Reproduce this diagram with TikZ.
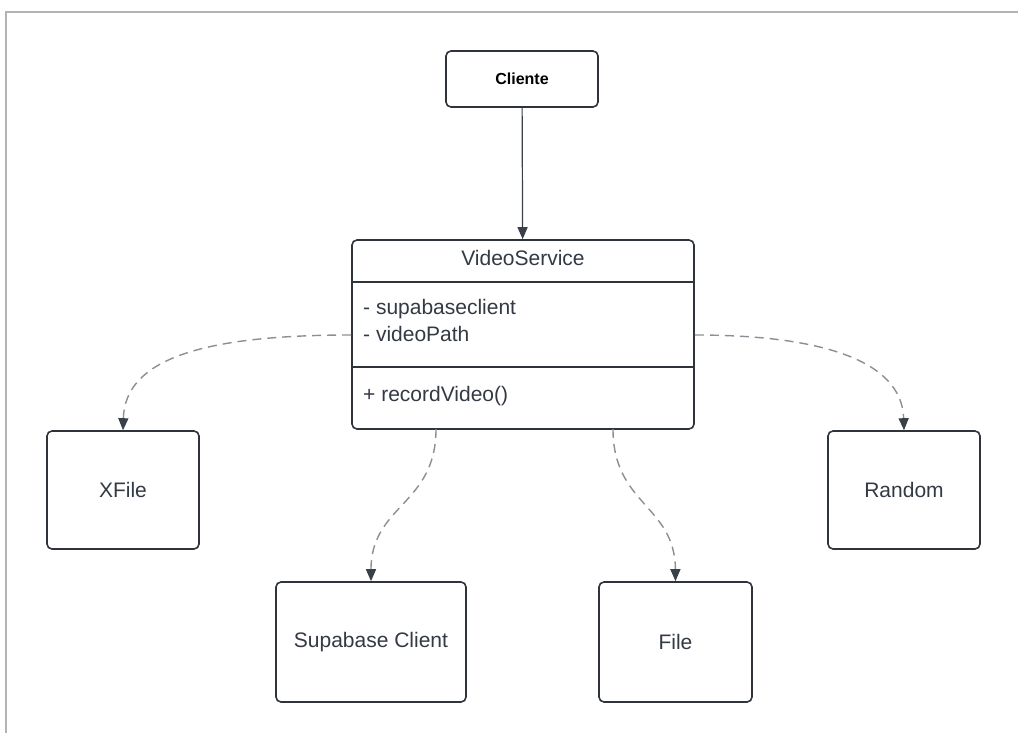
\documentclass[tikz,border=0pt]{standalone}
\usepackage{fontspec}
\setmainfont{Liberation Sans}
\usetikzlibrary{shapes,arrows.meta}
\definecolor{boxline}{HTML}{2F343B}
\definecolor{ink}{HTML}{333A44}
\definecolor{depline}{HTML}{8A8F96}
\definecolor{tipcol}{HTML}{3A4049}
\definecolor{framegray}{HTML}{B3B3B3}

\begin{document}
\begin{tikzpicture}[x=1pt,y=-1pt,
  box/.style={draw=boxline,line width=1.6pt,rounded corners=5pt,fill=white,inner sep=0pt,text=ink,font=\fontsize{21}{25}\selectfont},
  member/.style={anchor=west,inner sep=0pt,text=ink,font=\fontsize{21}{25}\selectfont},
  dep/.style={depline,line width=1.4pt,dash pattern=on 9pt off 6pt,-{Triangle[length=12pt,width=10pt,color=tipcol]}}]
\useasboundingbox (0,0) rectangle (1018,733);
\draw[framegray,line width=2.2pt] (6,733) -- (6,12) -- (1018,12); % outer frame

\node[box,minimum width=152pt,minimum height=56pt,font=\bfseries\fontsize{16}{19}\selectfont,text=black] (cliente) at (522,79) {Cliente};

% class box with its two dividers
\node[box,minimum width=342pt,minimum height=189pt] (vs) at (523,334.5) {};
\draw[boxline,line width=1.6pt] (vs.west |- 0,282) -- (vs.east |- 0,282);
\draw[boxline,line width=1.6pt] (vs.west |- 0,367) -- (vs.east |- 0,367);
\node[inner sep=0pt,text=ink,font=\fontsize{21}{25}\selectfont] (vsname) at (523,258) {VideoService};
\node[member] (attra) at (363,309) {- supabaseclient};
\node[member] (attrb) at (363,334) {- videoPath};
\node[member] (meth) at (363,396) {+ recordVideo()};

\node[box,minimum width=152pt,minimum height=118pt] (xfile) at (123,490) {XFile};
\node[box,minimum width=152pt,minimum height=118pt] (random) at (904,490) {Random};
\node[box,minimum width=190pt,minimum height=120pt] (supa) at (371,642) {Supabase Client};
\node[box,minimum width=153pt,minimum height=120pt] (file) at (675.5,642) {File};

\draw[-{Triangle[length=12pt,width=10pt]},line width=1.2pt,color=tipcol] (cliente) -- (vs);

\coordinate (lstart) at (vs.west |- 0,335);
\coordinate (rstart) at (vs.east |- 0,335);
\coordinate (bl) at (436,429);
\coordinate (br) at (613,429);
\draw[dep] (lstart) .. controls (200,335) and (125,360) .. (xfile.north);
\draw[dep] (rstart) .. controls (820,335) and (902,360) .. (random.north);
\draw[dep] (bl) .. controls (436,505) and (371,505) .. (supa.north);
\draw[dep] (br) .. controls (613,505) and (675,505) .. (file.north);
\end{tikzpicture}
\end{document}
